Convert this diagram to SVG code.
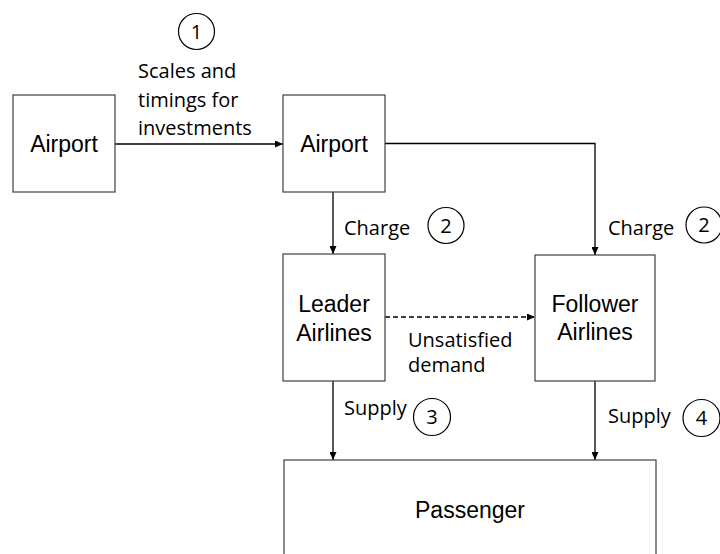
<svg xmlns="http://www.w3.org/2000/svg" width="720" height="554" viewBox="0 0 720 554">
<style>
.box{fill:#fff;stroke:#404040;stroke-width:1.2}
.nt{font-family:"Liberation Sans",Arial,sans-serif;font-size:23px;fill:#000;text-anchor:middle}
.lb{font-family:"Open Sans","Noto Sans",sans-serif;font-size:20px;fill:#000}
.num{font-family:"Open Sans","Noto Sans",sans-serif;font-size:20px;fill:#000;text-anchor:middle}
.cir{fill:none;stroke:#000;stroke-width:1.2}
.ln{fill:none;stroke:#000;stroke-width:1.3}
</style>
<defs>
<marker id="ah" markerWidth="9" markerHeight="7" refX="8" refY="3.5" orient="auto" markerUnits="userSpaceOnUse">
<path d="M0,0 L8,3.5 L0,7 z" fill="#000"/>
</marker>
</defs>
<rect width="720" height="554" fill="#fff"/>
<g id="connectors">
<path class="ln" d="M115,144 H283" marker-end="url(#ah)"/>
<path class="ln" d="M385,143.5 H595 V255" marker-end="url(#ah)"/>
<path class="ln" d="M333,192 V254" marker-end="url(#ah)"/>
<path class="ln" d="M385,317 H535" stroke-dasharray="5,3" marker-end="url(#ah)"/>
<path class="ln" d="M333,381 V460" marker-end="url(#ah)"/>
<path class="ln" d="M595,381 V460" marker-end="url(#ah)"/>
</g>
<g id="labels">
<text class="lb" x="138" y="78">Scales and</text>
<text class="lb" x="138" y="106.5">timings for</text>
<text class="lb" x="138" y="135">investments</text>
<circle class="cir" cx="196.5" cy="31.5" r="18"/>
<text class="num" x="196.5" y="38.5">1</text>
<text class="lb" x="344" y="235">Charge</text>
<circle class="cir" cx="446" cy="225.5" r="18"/>
<text class="num" x="446" y="232.5">2</text>
<text class="lb" x="608" y="235">Charge</text>
<circle class="cir" cx="704" cy="225" r="18"/>
<text class="num" x="704" y="232">2</text>
<text class="lb" x="408" y="347">Unsatisfied</text>
<text class="lb" x="408" y="372">demand</text>
<text class="lb" x="344" y="415">Supply</text>
<circle class="cir" cx="432" cy="417" r="18.5"/>
<text class="num" x="432" y="424">3</text>
<text class="lb" x="608" y="423">Supply</text>
<circle class="cir" cx="701.5" cy="418" r="18.5"/>
<text class="num" x="701.5" y="425">4</text>
</g>
<g id="airport1">
<rect class="box" x="13" y="95" width="102" height="97"/>
<text class="nt" x="64" y="152">Airport</text>
</g>
<g id="airport2">
<rect class="box" x="283" y="95" width="102" height="97"/>
<text class="nt" x="334" y="152">Airport</text>
</g>
<g id="leader">
<rect class="box" x="283" y="254" width="102" height="127"/>
<text class="nt" x="334" y="312">Leader</text>
<text class="nt" x="334" y="341">Airlines</text>
</g>
<g id="follower">
<rect class="box" x="535" y="255" width="120" height="126"/>
<text class="nt" x="595" y="312">Follower</text>
<text class="nt" x="595" y="340">Airlines</text>
</g>
<g id="passenger">
<rect class="box" x="284" y="460" width="372" height="110"/>
<text class="nt" x="470" y="518">Passenger</text>
</g>
</svg>
